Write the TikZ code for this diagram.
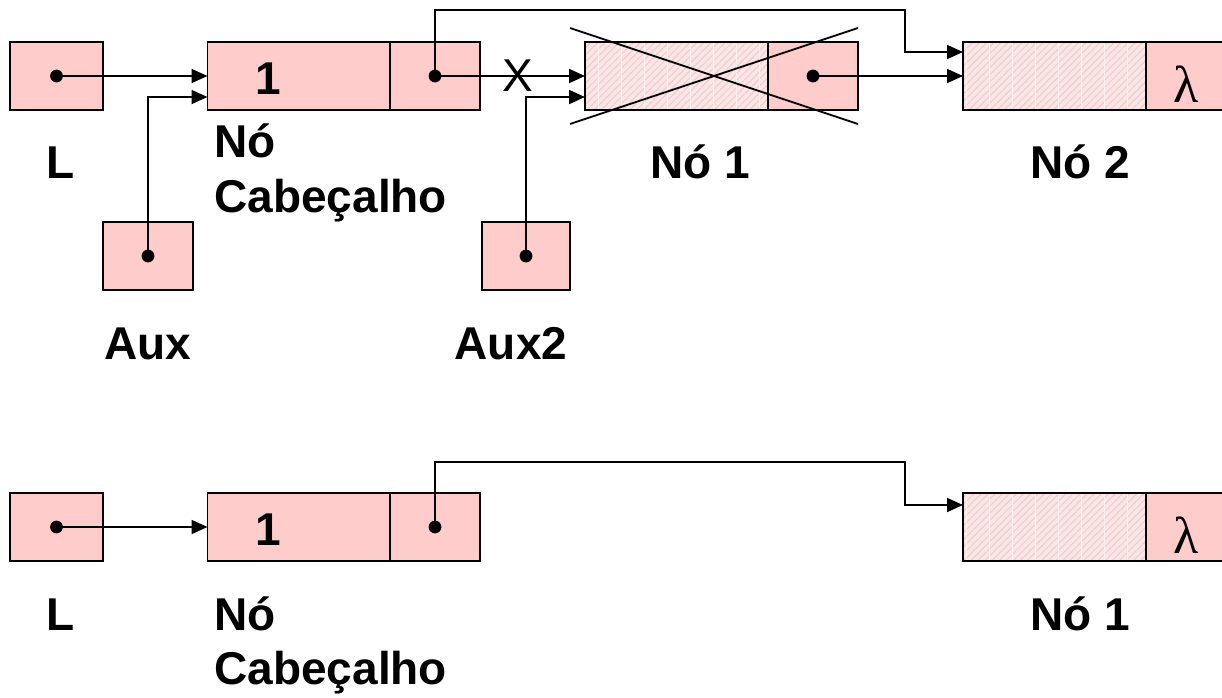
\documentclass[tikz,border=0pt]{standalone}
\usepackage{fontspec}
\setmainfont{Liberation Sans}
\newfontfamily\grserif{Liberation Serif}
\usetikzlibrary{arrows.meta,patterns.meta}
\definecolor{cellpink}{HTML}{FFCCCC}
\definecolor{hatchbg}{HTML}{FAE6E6}
\definecolor{hatchln}{HTML}{F0CACA}
\begin{document}
\begin{tikzpicture}[x=0.5pt,y=-0.5pt,
  cell/.style={draw=black, line width=0.9pt, fill=cellpink, minimum height=34pt, inner sep=0pt, outer sep=0pt},
  hatched/.style={draw=black, line width=0.9pt, minimum height=34pt, inner sep=0pt, outer sep=0pt,
     preaction={fill=hatchbg},
     preaction={pattern={Lines[angle=45,distance=2.5pt,line width=0.5pt]}, pattern color=hatchln},
     preaction={pattern={Lines[angle=90,distance=11.5pt,line width=0.4pt]}, pattern color=hatchbg!60!white}},
  wsmall/.style={minimum width=45pt},
  wbig/.style={minimum width=91.5pt},
  conn/.style={line width=0.9pt, -{Triangle[length=8pt,width=7pt]}},
  lbl/.style={font=\bfseries\fontsize{23}{29}\selectfont, inner sep=0pt, anchor=base},
  numtxt/.style={font=\bfseries\fontsize{23}{29}\selectfont, inner sep=0pt},
  lamtxt/.style={font=\grserif\fontsize{26}{30}\selectfont, inner sep=0pt},
]
\useasboundingbox (0,0) rectangle (1222,697);
\clip (0,0) rectangle (1222,697);
\fill[white] (0,0) rectangle (1222,697);

% ---------- top row ----------
\node[cell, minimum width=46.5pt] (Lt) at (56.5,76) {};
\node[cell, wbig] (Htd) at (299,76) {};
\node[cell, wsmall] (Htp) at (435,76) {};
\node[hatched, wbig] (N1d) at (676.5,76) {};
\node[cell, wsmall] (N1p) at (813,76) {};
\node[hatched, wbig] (N2d) at (1054.5,76) {};
\node[cell, wsmall] (N2p) at (1191,76) {};
\node[cell, wsmall] (Aux) at (148,256) {};
\node[cell, minimum width=44pt] (Aux2) at (526,256) {};

\node[numtxt] (Htv) at (268,79) {1};
\node[lamtxt] (N2v) at (1186,84) {λ};

\fill (Lt.center) circle (3.2pt);
\fill (Htp.center) circle (3.2pt);
\fill (N1p.center) circle (3.2pt);
\fill (Aux.center) circle (3.2pt);
\fill (Aux2.center) circle (3.2pt);

\coordinate (tt) at (905,10);
\draw[conn] (Lt.center) -- (Htd.west);
\draw[conn] (Aux.center) |- ([yshift=-10.5pt]Htd.west);
\draw[conn] (Htp.center) -- node[pos=0.553, font=\fontsize{23}{27}\selectfont, inner sep=0pt] (xmark) {X} (N1d.west);
\draw[conn] (Htp.center) |- (tt) |- ([yshift=12pt]N2d.west);
\draw[conn] (Aux2.center) |- ([yshift=-10.5pt]N1d.west);
\draw[conn] (N1p.center) -- (N2d.west);

\draw[line width=0.9pt] ([xshift=-7.5pt,yshift=7pt]N1d.north west) -- ([yshift=-7pt]N1p.south east);
\draw[line width=0.9pt] ([xshift=-7.5pt,yshift=-7pt]N1d.south west) -- ([yshift=7pt]N1p.north east);

\node[lbl] (lL) at (61,178) {L};
\node[lbl, anchor=base west] (lNo) at (214,157) {Nó};
\node[lbl, anchor=base west] (lCab) at (214,212) {Cabeçalho};
\node[lbl] (lN1) at (700,178) {Nó 1};
\node[lbl] (lN2) at (1080,178) {Nó 2};
\node[lbl] (lAux) at (148,359) {Aux};
\node[lbl] (lAux2) at (511,359) {Aux2};

% ---------- bottom row ----------
\node[cell, minimum width=46.5pt] (Lb) at (56.5,527) {};
\node[cell, wbig] (Hbd) at (299,527) {};
\node[cell, wsmall] (Hbp) at (435,527) {};
\node[hatched, wbig] (M1d) at (1054.5,527) {};
\node[cell, wsmall] (M1p) at (1191,527) {};

\node[numtxt] (Hbv) at (268,530) {1};
\node[lamtxt] (M1v) at (1186,535) {λ};

\fill (Lb.center) circle (3.2pt);
\fill (Hbp.center) circle (3.2pt);

\coordinate (tb) at (905,462);
\draw[conn] (Lb.center) -- (Hbd.west);
\draw[conn] (Hbp.center) |- (tb) |- ([yshift=11pt]M1d.west);

\node[lbl] (bL) at (61,630) {L};
\node[lbl, anchor=base west] (bNo) at (214,630) {Nó};
\node[lbl, anchor=base west] (bCab) at (214,684) {Cabeçalho};
\node[lbl] (bN1) at (1080,630) {Nó 1};
\end{tikzpicture}
\end{document}
